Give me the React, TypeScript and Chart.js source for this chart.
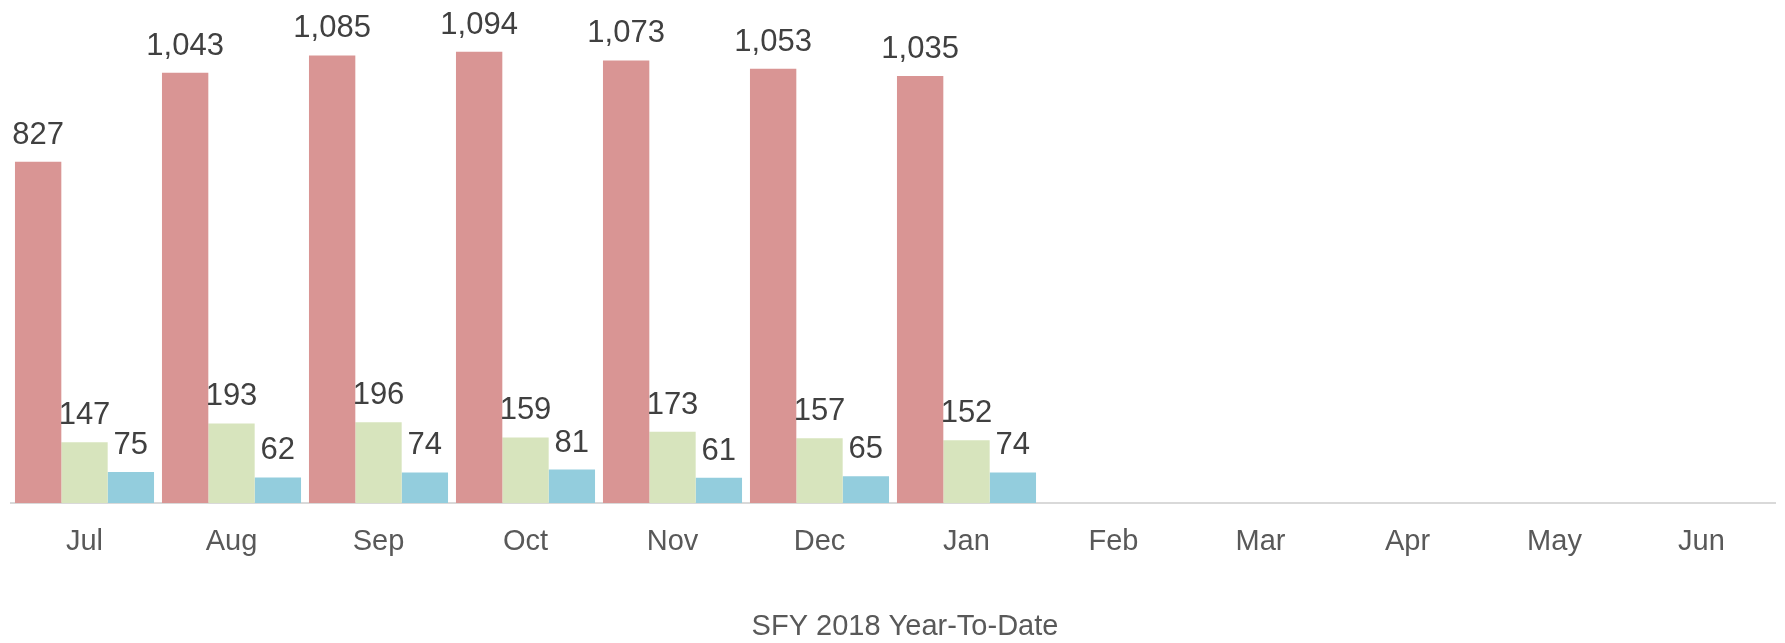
import React, { useEffect, useRef } from "react";
import { Chart, registerables } from "chart.js";

Chart.register(...registerables);

const months = ["Jul", "Aug", "Sep", "Oct", "Nov", "Dec", "Jan", "Feb", "Mar", "Apr", "May", "Jun"];
const seriesA = [827, 1043, 1085, 1094, 1073, 1053, 1035];
const seriesB = [147, 193, 196, 159, 173, 157, 152];
const seriesC = [75, 62, 74, 81, 61, 65, 74];
const axisTitle = "SFY 2018 Year-To-Date";

const FONT = "'Liberation Sans', Arial, sans-serif";

const dataLabelPlugin = {
  id: "dataLabels",
  afterDatasetsDraw(chart: any) {
    const ctx = chart.ctx;
    ctx.save();
    ctx.font = `31px ${FONT}`;
    ctx.fillStyle = "#404040";
    ctx.textAlign = "center";
    ctx.textBaseline = "alphabetic";
    chart.data.datasets.forEach((ds: any, i: number) => {
      const meta = chart.getDatasetMeta(i);
      meta.data.forEach((el: any, j: number) => {
        const v = ds.data[j];
        if (v == null) return;
        ctx.fillText(Number(v).toLocaleString("en-US"), el.x, el.y - 18);
      });
    });
    ctx.restore();
  },
};

const bottomTitlePlugin = {
  id: "bottomTitle",
  afterDraw(chart: any) {
    const ctx = chart.ctx;
    ctx.save();
    ctx.font = `29px ${FONT}`;
    ctx.fillStyle = "#595959";
    ctx.textAlign = "center";
    ctx.textBaseline = "alphabetic";
    ctx.fillText(axisTitle, 905, 635);
    ctx.restore();
  },
};

export default function App() {
  const ref = useRef<HTMLCanvasElement>(null);
  useEffect(() => {
    if (!ref.current) return;
    const chart = new Chart(ref.current, {
      type: "bar",
      data: {
        labels: months,
        datasets: [
          { data: seriesA, backgroundColor: "#D99594", categoryPercentage: 0.946, barPercentage: 1 },
          { data: seriesB, backgroundColor: "#D7E4BD", categoryPercentage: 0.946, barPercentage: 1 },
          { data: seriesC, backgroundColor: "#93CDDD", categoryPercentage: 0.946, barPercentage: 1 },
        ],
      },
      options: {
        responsive: false,
        animation: false,
        layout: { padding: { left: 11, right: 10, top: 8, bottom: 0 } },
        plugins: { legend: { display: false }, tooltip: { enabled: false }, title: { display: false } },
        scales: {
          x: {
            grid: { display: false, drawTicks: false },
            border: { display: true, color: "#D9D9D9", width: 2 },
            ticks: { color: "#595959", font: { family: FONT, size: 29 }, padding: 22, maxRotation: 0, autoSkip: false },
            afterFit: (scale: any) => { scale.height = 140; },
          },
          y: { display: false, min: 0, max: 1200 },
        },
      },
      plugins: [dataLabelPlugin, bottomTitlePlugin],
    });
    return () => chart.destroy();
  }, []);
  return (
    <div style={{ position: "fixed", left: 0, top: 0, width: 1785, height: 643, background: "#fff" }}>
      <canvas ref={ref} width={1785} height={643} />
    </div>
  );
}
